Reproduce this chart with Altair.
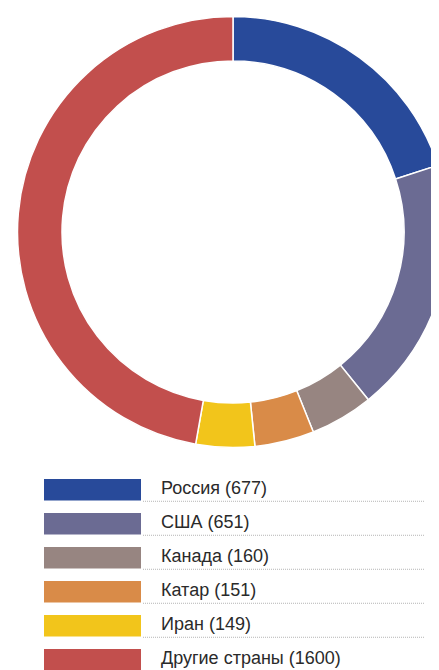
import altair as alt
import pandas as pd

countries = ["Россия", "США", "Канада", "Катар", "Иран", "Другие страны"]
values = [677, 651, 160, 151, 149, 1600]
colors = ["#284a9a", "#6b6b93", "#978581", "#d98b48", "#f2c51b", "#c24f4d"]

df = pd.DataFrame({"country": countries, "value": values, "idx": list(range(len(countries)))})
df["label"] = [f"{c} ({v})" for c, v in zip(countries, values)]

color = alt.Color("country:N", scale=alt.Scale(domain=countries, range=colors), legend=None)
yscale = alt.Scale(domain=[0, 6], range=[471, 675], zero=False, nice=False)

base = alt.Chart(df)

arc = base.mark_arc(innerRadius=171, outerRadius=215.5, stroke="white", strokeWidth=1.5,
                    x=225, y=224).encode(
    theta=alt.Theta("value:Q", stack=True),
    order=alt.Order("idx:Q"),
    color=color,
)

swatch = base.transform_calculate(y0="datum.idx", y1="datum.idx + 0.63").mark_rect().encode(
    x=alt.value(36), x2=alt.value(133),
    y=alt.Y("y0:Q", scale=yscale, axis=None), y2="y1:Q",
    color=color,
)

rule = base.transform_calculate(yr="datum.idx + 0.655").mark_rule(
    strokeDash=[1, 1], color="#b5b5b5", strokeWidth=1).encode(
    x=alt.value(135), x2=alt.value(416),
    y=alt.Y("yr:Q", scale=yscale, axis=None),
)

text = base.transform_calculate(yt="datum.idx + 0.43").mark_text(
    align="left", baseline="alphabetic", fontSize=18, font="Liberation Sans", color="#2a2a2a").encode(
    x=alt.value(153),
    y=alt.Y("yt:Q", scale=yscale, axis=None),
    text="label:N",
)

chart = alt.layer(arc, rule, swatch, text).properties(
    width=423, height=662, padding=0,
    autosize=alt.AutoSizeParams(type="none"),
).configure_view(stroke=None)

chart.save("out.html", embed_options={"renderer": "svg", "actions": False})
